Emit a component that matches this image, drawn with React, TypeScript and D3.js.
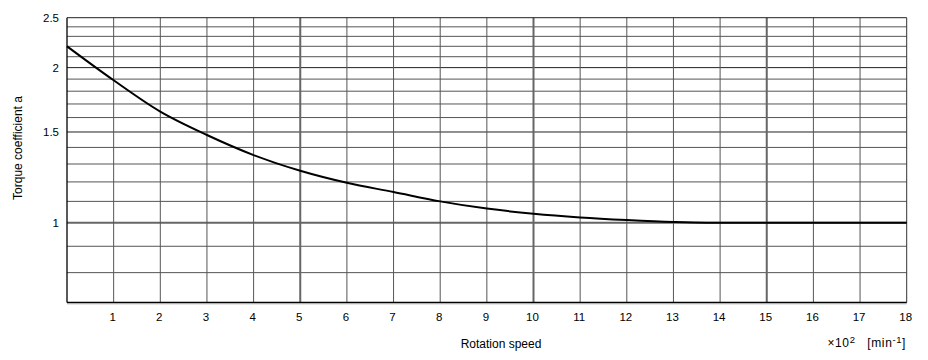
import React from "react";
import * as d3 from "d3";

// rotation speed (x10^2 min^-1) vs torque coefficient a
const speeds = [0, 1, 2, 3, 4, 5, 6, 7, 8, 9, 10, 11, 12, 13, 13.7, 15, 16, 17, 18];
const coeffs = [2.2, 1.89, 1.643, 1.48, 1.353, 1.261, 1.195, 1.147, 1.1, 1.065, 1.041, 1.024, 1.012, 1.003, 1.0, 1.0, 1.0, 1.0, 1.0];

const xTicks = [1, 2, 3, 4, 5, 6, 7, 8, 9, 10, 11, 12, 13, 14, 15, 16, 17, 18];
const xMajor = [5, 10, 15];
const yLabels = [1, 1.5, 2, 2.5];
const yMinor = [0.8, 0.9, 1.1, 1.2, 1.3, 1.4, 1.6, 1.7, 1.8, 1.9, 2.1, 2.2, 2.3, 2.4];

const W = 928;
const H = 360;
const left = 67;
const right = 906.7;
const top = 17.7;
const bottom = 302.5;

const App = () => {
  const x = d3.scaleLinear().domain([0, 18]).range([left, right]);
  const y = d3.scaleLog().domain([0.7, 2.5]).range([bottom, top]);

  const line = d3
    .line<number>()
    .x((d, i) => x(speeds[i]))
    .y(d => y(d))
    .curve(d3.curveMonotoneX);

  const font = "'Liberation Sans', Arial, sans-serif";

  return (
    <svg
      width={W}
      height={H}
      style={{ position: "absolute", left: 0, top: 0, background: "#fff" }}
      fontFamily={font}
    >
      {/* minor horizontal grid */}
      {yMinor.map(v => (
        <line key={"hm" + v} x1={left} x2={right} y1={y(v)} y2={y(v)} stroke="#555" strokeWidth={1} />
      ))}
      {/* major horizontal grid */}
      {[1.5, 2].map(v => (
        <line key={"hM" + v} x1={left} x2={right} y1={y(v)} y2={y(v)} stroke="#222" strokeWidth={1} />
      ))}
      <line x1={left} x2={right} y1={y(1)} y2={y(1)} stroke="#666" strokeWidth={2} />
      {/* vertical grid */}
      {xTicks.filter(t => !xMajor.includes(t) && t !== 18).map(t => (
        <line key={"v" + t} x1={x(t)} x2={x(t)} y1={top} y2={bottom} stroke="#555" strokeWidth={1} />
      ))}
      {xMajor.map(t => (
        <line key={"V" + t} x1={x(t)} x2={x(t)} y1={top} y2={bottom} stroke="#666" strokeWidth={2} />
      ))}
      {/* frame */}
      <line x1={left} x2={right} y1={top} y2={top} stroke="#222" strokeWidth={1} />
      <line x1={right} x2={right} y1={top} y2={bottom} stroke="#333" strokeWidth={1} />
      <line x1={left} x2={left} y1={top} y2={bottom} stroke="#000" strokeWidth={1.3} />
      <line x1={left} x2={right} y1={bottom} y2={bottom} stroke="#000" strokeWidth={1.5} />
      <line x1={left} x2={right} y1={bottom + 1.3} y2={bottom + 1.3} stroke="#aaa" strokeWidth={1} />

      {/* curve */}
      <path d={line(coeffs) || ""} fill="none" stroke="#000" strokeWidth={2} />

      {/* y tick labels */}
      {yLabels.map(v => (
        <text key={"yl" + v} x={59} y={y(v)} dy="0.35em" textAnchor="end" fontSize={11.5} fill="#000">
          {v}
        </text>
      ))}
      {/* x tick labels */}
      {xTicks.map(t => (
        <text key={"xl" + t} x={x(t) - 1} y={321} textAnchor="middle" fontSize={11.5} fill="#000">
          {t}
        </text>
      ))}

      <text
        transform={`translate(22, 148) rotate(-90)`}
        textAnchor="middle"
        fontSize={12}
        fill="#000"
      >
        Torque coefficient a
      </text>
      <text x={501} y={348} textAnchor="middle" fontSize={12} fill="#000">
        Rotation speed
      </text>
      <text x={906} y={347} textAnchor="end" fontSize={12} letterSpacing={0.6} fill="#000">
        ×10
        <tspan fontSize={9.5} dy={-4}>2</tspan>
        <tspan dy={4}>{"\u00a0\u00a0\u00a0[min"}</tspan>
        <tspan fontSize={9.5} dy={-4}>-1</tspan>
        <tspan dy={4}>]</tspan>
      </text>
    </svg>
  );
};

export default App;
